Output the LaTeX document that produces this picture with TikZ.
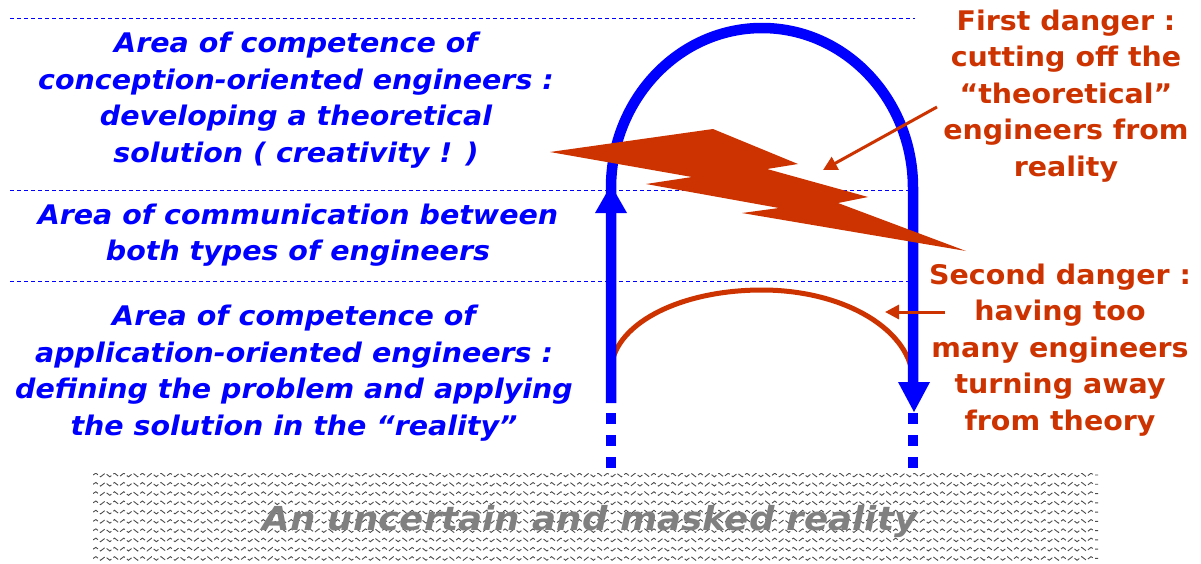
\documentclass[tikz,border=0pt]{standalone}
\usepackage{fontspec}
\setmainfont{DejaVu Sans}
\newfontfamily\wfont[FakeStretch=1.055]{DejaVu Sans}
\newfontfamily\gfont[FakeStretch=1.08]{DejaVu Sans}
\usetikzlibrary{decorations.pathmorphing,arrows.meta}
\definecolor{myblue}{HTML}{0000FF}
\definecolor{myred}{HTML}{CC3300}
\definecolor{mygray}{HTML}{808080}
\tikzset{
  bluetext/.style={text=myblue, align=center, font=\wfont\fontsize{27}{36.5}\selectfont\bfseries\itshape},
  redtext/.style={text=myred, align=center, font=\wfont\fontsize{27}{36.5}\selectfont\bfseries},
  sep/.style={draw=myblue, line width=1pt, dash pattern=on 4pt off 3pt},
  blueline/.style={draw=myblue, line width=10.5pt},
  bluehead/.style={fill=myblue},
  bluesq/.style={fill=myblue},
  redline/.style={draw=myred, line width=5pt},
  redarrow/.style={draw=myred, line width=3pt, -{Triangle[length=14pt,width=14pt]}},
  wave/.style={draw=black!70, line width=0.9pt, dash pattern=on 6pt off 2.5pt, decorate, decoration={snake, segment length=9.3pt, amplitude=1.8pt}}
}
\begin{document}
\begin{tikzpicture}[x=1pt,y=-1pt]
\useasboundingbox (0,0) rectangle (1201,563);
% separators
\draw[sep] (10,18) -- (915,18);
\draw[sep] (10,190) -- (915,190);
\draw[sep] (10,281) -- (915,281);
% bottom band
\begin{scope}
\clip (93,473) rectangle (1098,563);
\foreach \k in {0,...,9} {
  \draw[wave] (93,475+9.27*\k) -- (1098,475+9.27*\k);
}
\end{scope}
\node[text=mygray, font=\gfont\fontsize{33}{36}\selectfont\bfseries\itshape] (reality) at (590,522) {An uncertain and masked reality};
% left texts
\node[bluetext] (conc) at (296,100) {Area of competence of\\conception-oriented engineers :\\developing a theoretical\\solution ( creativity ! )};
\node[bluetext] (comm) at (298,235) {Area of communication between\\both types of engineers};
\node[bluetext] (appl) at (294,373) {Area of competence of\\application-oriented engineers :\\defining the problem and applying\\the solution in the “reality”};
% right texts
\node[redtext] (d1) at (1066,96) {First danger :\\cutting off the\\“theoretical”\\engineers from\\reality};
\node[redtext] (d2) at (1060,350) {Second danger :\\having too\\many engineers\\turning away\\from theory};
% red arc
\draw[redline] (611,372) .. controls (611,325) and (678.6,290) .. (762,290) .. controls (845.4,290) and (913,331) .. (913,382);
% blue loop
\draw[blueline] (611,403) -- (611,188) .. controls (611,99.6) and (678.6,28) .. (762,28) .. controls (845.4,28) and (913,99.6) .. (913,188) -- (913,384);
\fill[bluehead] (595,213) -- (611,185) -- (627,213) -- cycle;
\fill[bluehead] (898,382) -- (930,382) -- (914,412) -- cycle;
\foreach \yy in {413,435,457} {
  \fill[bluesq] (606,\yy) rectangle (616,\yy+11);
  \fill[bluesq] (908,\yy) rectangle (918,\yy+11);
}
% lightning
\fill[myred] (550,152) -- (713,129) -- (798,164) -- (767,169) -- (868,197) -- (838,203) -- (966,251) -- (742,213) -- (779,208) -- (646,184) -- (692,177) -- cycle;
% arrows
\coordinate (t1) at (823,170);
\coordinate (s1) at (937,107);
\draw[redarrow] (s1) -- (t1);
\coordinate (t2) at (885,312);
\coordinate (s2) at (945,312);
\draw[redarrow] (s2) -- (t2);
\end{tikzpicture}
\end{document}
